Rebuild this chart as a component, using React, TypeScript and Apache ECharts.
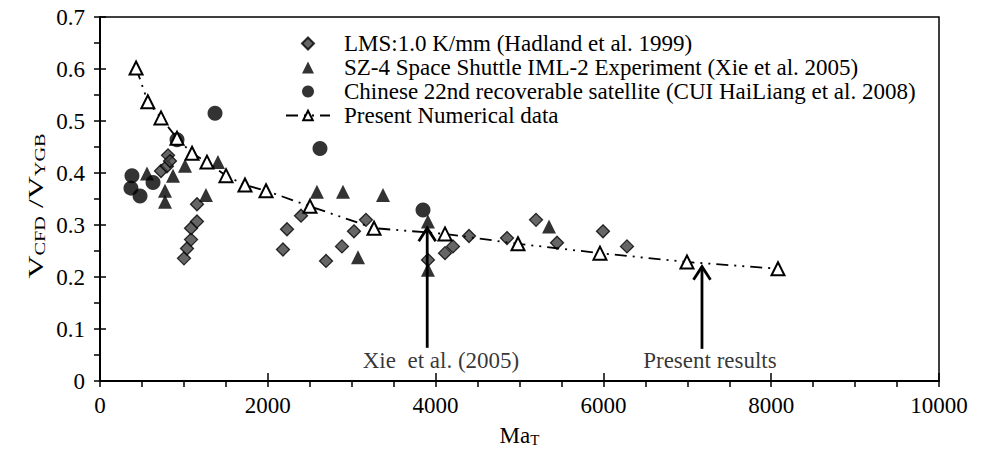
import React, { useEffect, useRef } from "react";
import * as echarts from "echarts";

const FONT = "Liberation Serif";

// LMS:1.0 K/mm (Hadland et al. 1999) — [Ma_T, V_CFD/V_YGB]
const lmsData: number[][] = [
  [727, 0.404], [798, 0.413], [811, 0.434], [834, 0.423],
  [1001, 0.236], [1037, 0.255], [1085, 0.272], [1085, 0.294], [1156, 0.307], [1156, 0.340],
  [2181, 0.253], [2229, 0.292], [2396, 0.318], [2694, 0.231], [2884, 0.259], [3027, 0.288],
  [3170, 0.310], [3909, 0.233], [4112, 0.246], [4207, 0.259], [4398, 0.279], [4851, 0.275],
  [5197, 0.310], [5447, 0.266], [5995, 0.288], [6281, 0.259],
];

// SZ-4 Space Shuttle IML-2 Experiment (Xie et al. 2005)
const sz4Data: number[][] = [
  [560, 0.399], [775, 0.366], [775, 0.345], [870, 0.395], [1013, 0.414], [1263, 0.358],
  [1406, 0.421], [2586, 0.364], [2896, 0.364], [3373, 0.358], [3075, 0.238],
  [3909, 0.307], [3909, 0.214], [5352, 0.297],
];

// Chinese 22nd recoverable satellite (CUI HaiLiang et al. 2008)
const satData: number[][] = [
  [369, 0.371], [381, 0.395], [477, 0.356], [632, 0.382], [918, 0.464],
  [1371, 0.515], [2622, 0.447], [3850, 0.329],
];

// Present Numerical data
const presentData: number[][] = [
  [430, 0.602], [570, 0.537], [727, 0.506], [918, 0.467], [1097, 0.438], [1275, 0.421],
  [1502, 0.395], [1728, 0.377], [1979, 0.366], [2503, 0.336], [3266, 0.294], [4112, 0.283],
  [4982, 0.264], [5959, 0.246], [6996, 0.229], [8081, 0.216],
];

const seriesNames = [
  "LMS:1.0 K/mm (Hadland et al. 1999)",
  "SZ-4 Space Shuttle IML-2 Experiment (Xie et al. 2005)",
  "Chinese 22nd recoverable satellite (CUI HaiLiang et al. 2008)",
  "Present Numerical data",
];

// annotation arrows: [x, tail y, tip y]
const arrowData: number[][] = [
  [3900, 0.064, 0.294],
  [7175, 0.062, 0.22],
];
// annotation texts and their centres
const annotationTexts = ["Xie  et al. (2005)", "Present results"];
const annotationPos: number[][] = [
  [4064, 0.040],
  [7270, 0.040],
];

const xMin = 0, xMax = 10000, xStep = 2000;
const yMin = 0, yMax = 0.7, yStep = 0.1;
const yAxisTitle = "{v|V}{s|CFD}{v| /V}{s|YGB}";
const xAxisTitle = "{a|Ma}{s|T}";

export default function App() {
  const ref = useRef<HTMLDivElement>(null);
  useEffect(() => {
    document.body.style.margin = "0";
    const chart = echarts.init(ref.current!, undefined, { renderer: "svg" });
    const black = "#000";
    const tickStyle = { color: black, width: 1.5 };
    const legendText = { fontFamily: FONT, fontSize: 23, color: black, lineHeight: 23 };
    const option: any = {
      animation: false,
      backgroundColor: "#fff",
      textStyle: { fontFamily: FONT },
      grid: {
        left: 100, right: 47, top: 17, bottom: 56,
        show: true, borderColor: black, borderWidth: 1.5, backgroundColor: "transparent",
      },
      graphic: [
        {
          type: "text",
          x: 36,
          y: 206,
          rotation: Math.PI / 2,
          scaleX: 1.45,
          silent: true,
          style: {
            text: yAxisTitle,
            fontFamily: FONT,
            fontSize: 22,
            fill: black,
            align: "center",
            verticalAlign: "middle",
            rich: {
              v: { fontFamily: FONT, fontSize: 22, fill: black, lineHeight: 22, verticalAlign: "top" },
              s: { fontFamily: FONT, fontSize: 14, fill: black, lineHeight: 14, padding: [10, 0, 0, 0], verticalAlign: "bottom" },
            },
          },
        },
      ],
      legend: [
        {
          orient: "vertical",
          left: 296,
          top: 27,
          itemWidth: 12,
          itemHeight: 12,
          itemGap: 1,
          selectedMode: false,
          data: seriesNames.slice(0, 3),
          textStyle: { ...legendText, padding: [0, 0, 0, 25] },
        },
        {
          orient: "vertical",
          left: 280,
          top: 99,
          itemWidth: 44,
          itemHeight: 12,
          itemGap: 1,
          selectedMode: false,
          data: [seriesNames[3]],
          textStyle: { ...legendText, padding: [0, 0, 0, 9] },
        },
      ],
      xAxis: [
        {
          type: "value", min: xMin, max: xMax, interval: xStep,
          axisLine: { show: true, onZero: false, lineStyle: { color: black, width: 2 } },
          axisTick: { show: true, length: 6, lineStyle: tickStyle },
          minorTick: { show: true, splitNumber: 4, length: 6, lineStyle: tickStyle },
          axisLabel: { color: black, fontFamily: FONT, fontSize: 23, margin: 13, formatter: (v: number) => String(v) },
          splitLine: { show: false },
          name: xAxisTitle,
          nameLocation: "middle",
          nameGap: 27,
          nameTextStyle: {
            rich: {
              a: { fontFamily: FONT, fontSize: 23, color: black, lineHeight: 23, verticalAlign: "top" },
              s: { fontFamily: FONT, fontSize: 15, color: black, lineHeight: 15, padding: [10, 0, 0, 0], verticalAlign: "bottom" },
            },
          },
        },
        {
          type: "value", position: "bottom", min: xMin, max: xMax, interval: xStep,
          axisLine: { show: false },
          axisTick: { show: true, inside: true, length: 8, lineStyle: tickStyle },
          axisLabel: { show: false },
          splitLine: { show: false },
        },
      ],
      yAxis: [
        {
          type: "value", min: yMin, max: yMax, interval: yStep,
          axisLine: { show: true, onZero: false, lineStyle: { color: black, width: 2 } },
          axisTick: { show: true, length: 6, lineStyle: tickStyle },
          minorTick: { show: true, splitNumber: 2, length: 6, lineStyle: tickStyle },
          axisLabel: {
            color: black, fontFamily: FONT, fontSize: 23, margin: 15,
            formatter: (v: number) => (Math.abs(v) < 1e-9 ? "0" : v.toFixed(1)),
          },
          splitLine: { show: false },
        },
        {
          type: "value", position: "left", min: yMin, max: yMax, interval: yStep,
          axisLine: { show: false },
          axisTick: { show: true, inside: true, length: 6, lineStyle: tickStyle },
          axisLabel: { show: false },
          splitLine: { show: false },
        },
      ],
      series: [
        {
          name: seriesNames[0], type: "scatter", data: lmsData,
          symbol: "diamond", symbolSize: 13,
          itemStyle: { color: "#404040", borderColor: black, borderWidth: 1.3 },
          z: 3,
        },
        {
          name: seriesNames[1], type: "scatter", data: sz4Data,
          symbol: "triangle", symbolSize: 14,
          itemStyle: { color: black },
          z: 4,
        },
        {
          name: seriesNames[2], type: "scatter", data: satData,
          symbol: "circle", symbolSize: 15,
          itemStyle: { color: black },
          z: 4,
        },
        {
          name: seriesNames[3], type: "line", data: presentData,
          symbol: "triangle", symbolSize: 13, showSymbol: true, showAllSymbol: true,
          itemStyle: { color: "#fff", borderColor: black, borderWidth: 2 },
          lineStyle: { color: black, width: 1.8, type: [12, 6, 2, 6, 2, 6] },
          z: 5,
        },
        {
          type: "custom",
          data: arrowData,
          encode: { x: 0, y: [1, 2] },
          silent: true,
          z: 6,
          renderItem: (_params: any, api: any) => {
            const x = api.value(0);
            const p0 = api.coord([x, api.value(1)]);
            const p1 = api.coord([x, api.value(2)]);
            const hw = 8.5, hh = 13;
            return {
              type: "group",
              children: [
                { type: "line", shape: { x1: p0[0], y1: p0[1], x2: p1[0], y2: p1[1] }, style: { stroke: black, lineWidth: 2.8 } },
                {
                  type: "polyline",
                  shape: { points: [[p1[0] - hw, p1[1] + hh], [p1[0], p1[1]], [p1[0] + hw, p1[1] + hh]] },
                  style: { stroke: black, fill: "none", lineWidth: 2.8 },
                },
              ],
            };
          },
        },
        {
          type: "scatter",
          data: annotationPos.map((p, i) => ({ value: p, name: annotationTexts[i] })),
          symbolSize: 0,
          silent: true,
          label: {
            show: true, position: "inside", formatter: (p: any) => p.name,
            fontFamily: FONT, fontSize: 23, color: black,
          },
          z: 6,
        },
      ],
    };
    chart.setOption(option);
    return () => chart.dispose();
  }, []);
  return <div ref={ref} style={{ width: 986, height: 452 }} />;
}
